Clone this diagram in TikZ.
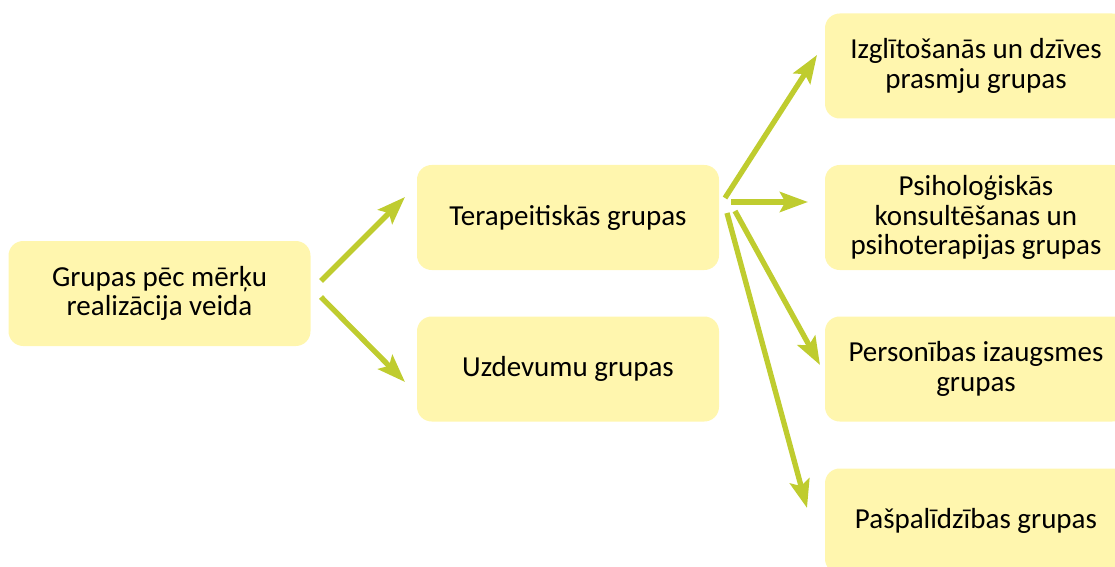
\documentclass[tikz,border=0pt]{standalone}
\usepackage{fontspec}
\setmainfont{Carlito}
\usetikzlibrary{arrows.meta}
\definecolor{boxfill}{HTML}{FFF6AE}
\definecolor{arrowgreen}{HTML}{BFCC2F}

\begin{document}
\begin{tikzpicture}[x=0.75pt,y=-0.75pt,
  box/.style={fill=boxfill, rounded corners=11pt, minimum width=226.5pt,
    minimum height=78.75pt, align=center, inner sep=0pt,
    font=\fontsize{21.75}{22}\selectfont},
  link/.style={draw=arrowgreen, line width=4pt,
    -{Stealth[length=21pt,width=15pt,inset=4pt]}}]
\useasboundingbox (0,0) rectangle (1115,567);

% boxes
\node[box] (root)  at (159.5,293.5) {Grupas pēc mērķu\\realizācija veida};
\node[box] (ther)  at (568,217.5)   {Terapeitiskās grupas};
\node[box] (task)  at (568,369)     {Uzdevumu grupas};
\node[box] (edu)   at (976,66)      {Izglītošanās un dzīves\\prasmju grupas};
\node[box] (psy)   at (976,217.5)   {Psiholoģiskās\\konsultēšanas un\\psihoterapijas grupas};
\node[box] (pers)  at (976,369)     {Personības izaugsmes\\grupas};
\node[box] (self)  at (976,521)     {Pašpalīdzības grupas};

% arrow end points
\coordinate (r1) at (321,281);
\coordinate (r2) at (321,297);
\coordinate (t0) at (405,197);
\coordinate (u0) at (405,382);
\coordinate (s1) at (725,198);
\coordinate (s2) at (731,202);
\coordinate (s3) at (735,211);
\coordinate (s4) at (727,213);
\coordinate (e1) at (817,55);
\coordinate (e2) at (808,202);
\coordinate (e3) at (820,365);
\coordinate (e4) at (807,508);

% connectors
\draw[link] (r1) -- (t0);
\draw[link] (r2) -- (u0);
\draw[link] (s1) -- (e1);
\draw[link] (s2) -- (e2);
\draw[link] (s3) -- (e3);
\draw[link] (s4) -- (e4);
\end{tikzpicture}
\end{document}
